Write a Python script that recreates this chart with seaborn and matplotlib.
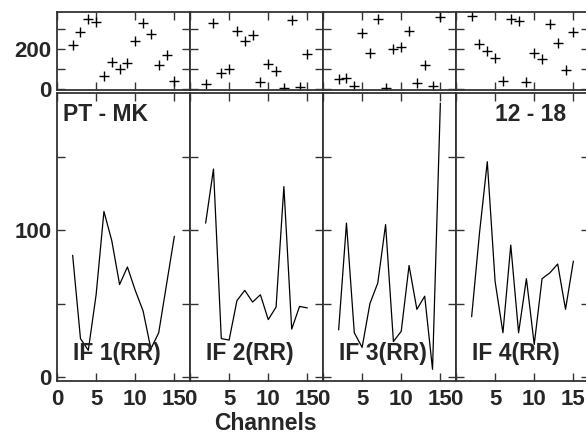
import numpy as np
import pandas as pd
import matplotlib
matplotlib.use("Agg")
import matplotlib.pyplot as plt
import seaborn as sns

sns.set_style("ticks")
plt.rcParams['font.family'] = ['Liberation Sans', 'DejaVu Sans']
plt.rcParams['font.weight'] = 'bold'

channels = list(range(2, 16))

# top row: scatter values (+ markers)
top_if1 = [220, 283, 348, 335, 63, 135, 98, 128, 242, 328, 275, 118, 170, 42]
top_if2 = [25, 328, 78, 98, 290, 242, 272, 35, 123, 90, 3, 345, 12, 177]
top_if3 = [50, 57, 15, 282, 178, 350, 3, 200, 212, 288, 32, 120, 15, 358]
top_if4 = [365, 225, 192, 153, 42, 350, 340, 35, 182, 148, 325, 228, 97, 285]

# bottom row: line values
bot_if1 = [83, 26, 18, 56, 113, 93, 63, 75, 59, 45, 19, 30, 63, 96]
bot_if2 = [105, 142, 26, 25, 52, 59, 51, 56, 39, 47.5, 130, 32.5, 48, 47]
bot_if3 = [32, 105, 30, 20, 50, 64, 104, 24, 31, 76, 46, 55, 5, 187]
bot_if4 = [41, 98, 147, 65, 30, 90, 30, 67, 22, 67, 71, 77, 46, 79]

panel_labels = ["IF 1(RR)", "IF 2(RR)", "IF 3(RR)", "IF 4(RR)"]
x_ticks = [0, 5, 10, 15]
x_ticklabels = ["0", "5", "10", "15"]
top_yticks = [0, 100, 200, 300]
top_yticklabels = ["0", "", "200", ""]
bot_yticks = [0, 50, 100, 150]
bot_yticklabels = ["0", "", "100", ""]

tops = [top_if1, top_if2, top_if3, top_if4]
bots = [bot_if1, bot_if2, bot_if3, bot_if4]

W, H = 586, 434
fig = plt.figure(figsize=(W / 100, H / 100), dpi=100)

FS = 16
spine_c = '#333333'

def px_box(x0, y_top, x1, y_bot):
    return [x0 / W, 1 - y_bot / H, (x1 - x0) / W, (y_bot - y_top) / H]

lefts = [57, 190, 323, 456]
pw = 133

for i in range(4):
    l = lefts[i]
    axt = fig.add_axes(px_box(l, 12, l + pw, 90))
    axb = fig.add_axes(px_box(l, 93, l + pw, 381))

    dft = pd.DataFrame({"ch": channels, "v": tops[i]})
    sns.scatterplot(data=dft, x="ch", y="v", marker="+", s=55, color="black",
                    linewidth=1.0, ax=axt, legend=False)
    dfb = pd.DataFrame({"ch": channels, "v": bots[i]})
    sns.lineplot(data=dfb, x="ch", y="v", color="black", linewidth=0.9, ax=axb)

    axt.set_xlim(0, 17)
    axt.set_ylim(-5, 385)
    axb.set_xlim(0, 17)
    axb.set_ylim(-3, 194)

    for ax in (axt, axb):
        ax.set_xlabel("")
        ax.set_ylabel("")
        ax.set_xticks(x_ticks)
        ax.tick_params(direction="in", length=6, width=1.0, color=spine_c,
                       top=True, right=True, labelsize=FS, pad=4)
        for sp in ax.spines.values():
            sp.set_color(spine_c)
            sp.set_linewidth(1.3)
            sp.set_visible(True)

    axt.set_yticks(top_yticks)
    axb.set_yticks(bot_yticks)
    axt.set_xticklabels([])
    axb.set_xticklabels(x_ticklabels, fontweight='bold')
    axb.tick_params(axis='x', pad=6)
    if i == 0:
        axt.set_yticklabels(top_yticklabels, fontweight='bold')
        axb.set_yticklabels(bot_yticklabels, fontweight='bold')
    else:
        axt.set_yticklabels([])
        axb.set_yticklabels([])

    axb.text(2.0, 11.5, panel_labels[i], fontsize=16.5, fontweight='bold',
             ha='left', va='baseline')

fig.axes[1].text(0.8, 187, "PT - MK", fontsize=16.5, fontweight='bold',
                 ha='left', va='top')
fig.axes[7].text(14.1, 187, "12 - 18", fontsize=16.5, fontweight='bold',
                 ha='right', va='top')

fig.text(265 / W, 1 - 430 / H, "Channels", fontsize=16.5, fontweight='bold',
         ha='center', va='baseline')

fig.savefig("out.png", dpi=100)
